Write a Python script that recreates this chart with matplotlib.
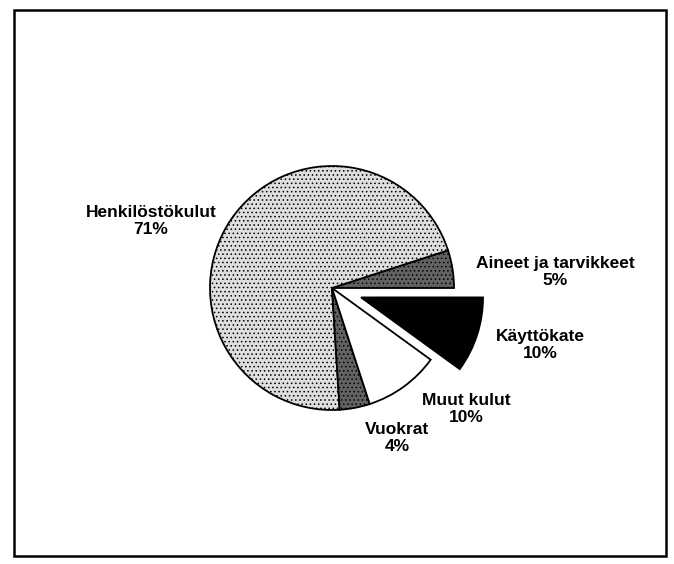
import matplotlib
matplotlib.use("Agg")
from matplotlib import pyplot as plt
from matplotlib.patches import Rectangle

# pie data, in drawing order counterclockwise from 3 o'clock
labels = ["Aineet ja tarvikkeet", "Henkilöstökulut", "Vuokrat", "Muut kulut", "Käyttökate"]
shares = [5, 71, 4, 10, 10]
explode = [0, 0, 0, 0, 0.25]  # fraction of radius
colors = ["#626262", "#dedede", "#626262", "white", "black"]
hatches = ["....", "....", "....", "", ""]

# label centres in pixels from the top left of the picture
label_pos = [(555, 272), (151, 221), (397, 438), (466, 409), (540, 345)]

W, H = 674, 564
R = 122
plt.rcParams["font.family"] = ["Liberation Sans", "DejaVu Sans"]
plt.rcParams["hatch.linewidth"] = 0.6
plt.rcParams["hatch.color"] = "#333333"

fig = plt.figure(figsize=(W / 100, H / 100), dpi=100)
ax = fig.add_axes([0, 0, 1, 1])

wedges, _ = ax.pie(shares, explode=[e * R for e in explode], colors=colors,
                   startangle=0, counterclock=True, radius=R, center=(332, H - 288),
                   wedgeprops=dict(edgecolor="black", linewidth=1.3), frame=True)
ax.set_xlim(0, W)
ax.set_ylim(0, H)
ax.set_aspect("equal")
ax.axis("off")
for w, h in zip(wedges, hatches):
    if h:
        w.set_hatch(h)

for lab, val, (x, y) in zip(labels, shares, label_pos):
    ax.text(x, H - y, f"{lab}\n{val}%", ha="center", va="center",
            fontsize=12.5, fontweight="bold", linespacing=1.2)

fig.patches.append(Rectangle((14 / W, 1 - 556 / H), 652 / W, 546 / H,
                             transform=fig.transFigure, fill=False,
                             edgecolor="black", linewidth=1.8))

fig.savefig("out.png", dpi=100)
